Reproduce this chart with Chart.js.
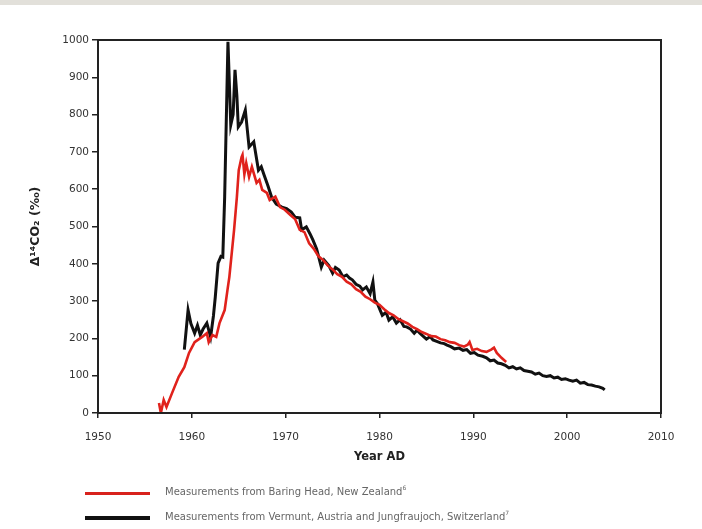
<!DOCTYPE html>
<html>
<head>
<meta charset="utf-8">
<script src="https://cdn.jsdelivr.net/npm/chart.js@4.4.1/dist/chart.umd.min.js"></script>
<style>
  html, body { margin: 0; padding: 0; background: #fff; }
  #wrap { position: relative; width: 702px; height: 529px; overflow: hidden; }
  #band { position: absolute; left: 0; top: 0; width: 702px; height: 5px; background: #e2e0da; }
  canvas { position: absolute; left: 0; top: 0; }
  .leg { position: absolute; left: 0; font-family: "DejaVu Sans", sans-serif; font-size: 10px; color: #666; white-space: nowrap; }
  .leg .ln { position: absolute; left: 85px; width: 65px; }
  .leg .tx { position: absolute; left: 165px; top: -7px; }
  sup { font-size: 6px; vertical-align: top; position: relative; top: -2px; }
</style>
</head>
<body>
<div id="wrap">
  <div id="band"></div>
  <canvas id="c" width="702" height="529"></canvas>
  <div class="leg" style="top:493px;"><div class="ln" style="top:-1.5px;height:3px;background:#d8221d;"></div><div class="tx">Measurements from Baring Head, New Zealand<sup>6</sup></div></div>
  <div class="leg" style="top:518px;"><div class="ln" style="top:-2px;height:4px;background:#111;"></div><div class="tx">Measurements from Vermunt, Austria and Jungfraujoch, Switzerland<sup>7</sup></div></div>
</div>
<script>
// ---- data ----
const redYears = [1956.5,1956.7,1957.0,1957.3,1957.9,1958.6,1959.2,1959.7,1960.3,1961.1,1961.6,1961.8,1962.2,1962.6,1962.95,1963.5,1963.8,1964.0,1964.5,1964.8,1965.0,1965.3,1965.4,1965.6,1965.8,1966.1,1966.4,1966.9,1967.2,1967.5,1968.0,1968.3,1968.9,1969.4,1969.9,1970.5,1971.0,1971.5,1972.0,1972.5,1973.0,1973.5,1974.0,1974.5,1975.0,1975.5,1976.0,1976.5,1977.0,1977.5,1978.0,1978.5,1979.0,1979.5,1980.0,1980.5,1981.0,1981.5,1982.0,1982.5,1983.0,1983.5,1984.0,1984.5,1985.0,1985.5,1986.0,1986.5,1987.0,1987.5,1988.0,1988.5,1989.0,1989.4,1989.6,1989.9,1990.4,1990.9,1991.4,1991.9,1992.2,1992.5,1993.0,1993.5];
const redVals  = [27,0,35,16,54,97,123,161,190,204,214,190,209,204,241,276,330,365,490,579,651,686,692,640,670,633,660,617,625,598,590,571,580,552,545,531,520,491,485,455,440,420,410,395,385,372,365,352,345,332,325,312,305,296,290,278,268,262,252,246,240,231,225,217,212,206,205,198,195,190,188,182,178,183,190,169,172,166,164,170,175,161,148,137];

const blackYears = [1959.2,1959.6,1959.9,1960.3,1960.6,1960.9,1961.2,1961.6,1962.0,1962.3,1962.5,1962.8,1963.1,1963.3,1963.5,1963.85,1964.15,1964.4,1964.6,1964.8,1964.95,1965.3,1965.7,1966.1,1966.6,1967.1,1967.4,1967.7,1968.1,1968.5,1969.0,1969.6,1970.1,1970.6,1971.0,1971.5,1971.7,1972.2,1972.6,1972.9,1973.3,1973.8,1974.1,1974.6,1975.0,1975.3,1975.7,1976.1,1976.5,1976.8,1977.1,1977.5,1977.9,1978.2,1978.6,1979.0,1979.3,1979.5,1979.8,1980.3,1980.7,1981.0,1981.4,1981.8,1982.2,1982.6,1982.9,1983.3,1983.7,1984.0,1984.3,1984.7,1985.0,1985.4,1985.7,1986.1,1986.5,1986.9,1987.2,1987.6,1988.0,1988.5,1988.9,1989.3,1989.7,1990.1,1990.5,1991.0,1991.4,1991.8,1992.2,1992.6,1993.0,1993.4,1993.8,1994.2,1994.6,1995.0,1995.4,1995.8,1996.2,1996.6,1997.0,1997.4,1997.8,1998.2,1998.6,1999.0,1999.4,1999.8,2000.2,2000.6,2001.0,2001.4,2001.8,2002.2,2002.6,2003.0,2003.4,2003.8,2004.0];
const blackVals  = [170,276,240,214,235,209,225,241,204,260,311,402,420,418,580,995,772,800,920,850,767,780,812,713,727,651,660,638,610,579,560,552,548,539,525,523,491,499,480,464,440,391,410,395,375,390,383,365,370,362,357,345,340,330,338,320,351,303,292,262,270,249,258,241,250,232,231,225,214,222,214,205,198,205,196,192,188,186,182,178,172,174,168,170,160,162,155,152,148,140,142,134,132,128,121,124,118,121,114,112,110,104,107,100,98,100,94,96,90,92,88,85,88,80,82,76,75,72,70,66,62];

const xTicks = [1950, 1960, 1970, 1980, 1990, 2000, 2010];
const yTicks = [0, 100, 200, 300, 400, 500, 600, 700, 800, 900, 1000];

const toPts = (xs, ys) => xs.map((x, i) => ({ x: x, y: ys[i] }));

const frame = {
  id: 'frame',
  afterDatasetsDraw(chart) {
    const { ctx, chartArea: a } = chart;
    ctx.save();
    ctx.strokeStyle = '#222';
    ctx.lineWidth = 2;
    ctx.strokeRect(a.left, a.top, a.right - a.left, a.bottom - a.top);
    ctx.restore();
  }
};

const tickFont = { family: '"DejaVu Sans", sans-serif', size: 10.5 };

new Chart(document.getElementById('c'), {
  type: 'line',
  data: {
    datasets: [
      { label: 'Baring Head', data: toPts(redYears, redVals), borderColor: '#e0221c', borderWidth: 2.6, pointRadius: 0, tension: 0, fill: false },
      { label: 'Vermunt/Jungfraujoch', data: toPts(blackYears, blackVals), borderColor: '#111', borderWidth: 3, pointRadius: 0, tension: 0, fill: false }
    ]
  },
  options: {
    responsive: false,
    animation: false,
    devicePixelRatio: 1,
    layout: { padding: { left: 25, right: 41, top: 40, bottom: 61 } },
    plugins: { legend: { display: false }, tooltip: { enabled: false } },
    scales: {
      x: {
        type: 'linear', min: 1950, max: 2010,
        afterBuildTicks: s => { s.ticks = xTicks.map(v => ({ value: v })); },
        afterFit: s => { s.height = 55; },
        ticks: { font: tickFont, color: '#333', padding: 13, maxRotation: 0, callback: v => String(v) },
        grid: { drawOnChartArea: false, drawTicks: true, tickLength: 5, color: '#222', lineWidth: 1.5 },
        border: { display: true, color: '#222', width: 2 },
        title: { display: true, text: 'Year AD', color: '#222', font: { family: '"DejaVu Sans", sans-serif', size: 11.5, weight: 'bold' }, padding: { top: 2, bottom: 4 } }
      },
      y: {
        type: 'linear', min: 0, max: 1000,
        afterBuildTicks: s => { s.ticks = yTicks.map(v => ({ value: v })); },
        afterFit: s => { s.width = 73; },
        ticks: { font: tickFont, color: '#333', padding: 3, callback: v => String(v) },
        grid: { drawOnChartArea: false, drawTicks: true, tickLength: 6, color: '#222', lineWidth: 1.5 },
        border: { display: true, color: '#222', width: 2 },
        title: { display: true, text: 'Δ¹⁴CO₂ (‰)', color: '#222', font: { family: '"DejaVu Sans", sans-serif', size: 12.5, weight: 'bold' }, padding: { top: 3, bottom: 4 } }
      }
    }
  },
  plugins: [frame]
});
</script>
</body>
</html>
